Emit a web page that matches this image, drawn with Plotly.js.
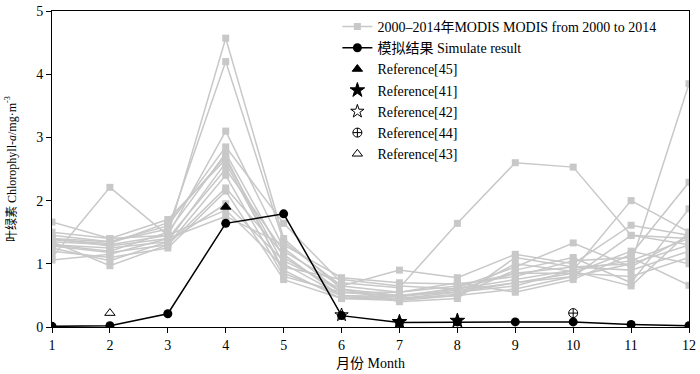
<!DOCTYPE html>
<html>
<head>
<meta charset="utf-8">
<script src="https://cdn.plot.ly/plotly-3.0.1.min.js"></script>
<style>html,body{margin:0;padding:0;background:#fff;}#chart{width:700px;height:374px;}</style>
</head>
<body>
<div id="chart"></div>
<script>
var months = [1,2,3,4,5,6,7,8,9,10,11,12];
var modisYears = ['2000','2001','2002','2003','2004','2005','2006','2007','2008','2009','2010','2011','2012','2013','2014'];
var modis2000 = [1.35,1.30,1.45,4.57,1.40,0.60,0.50,0.60,0.75,0.90,1.05,1.40];
var modis2001 = [1.40,1.35,1.55,4.20,1.35,0.65,0.55,0.65,0.85,0.95,1.00,1.30];
var modis2002 = [1.10,2.21,1.45,3.10,1.25,0.55,0.50,0.55,0.70,0.85,0.80,1.10];
var modis2003 = [1.45,1.35,1.60,2.85,1.64,0.70,0.62,1.64,2.60,2.53,1.45,1.40];
var modis2004 = [1.30,1.20,1.50,2.75,1.10,0.55,0.48,0.62,0.95,1.33,0.95,1.45];
var modis2005 = [1.66,1.40,1.70,2.65,1.00,0.50,0.45,0.55,0.65,0.90,2.00,1.50];
var modis2006 = [1.25,1.05,1.35,2.60,0.90,0.45,0.42,0.50,0.60,0.80,1.00,3.85];
var modis2007 = [1.40,1.28,1.40,2.50,1.20,0.65,0.90,0.78,1.15,1.00,1.61,1.45];
var modis2008 = [1.35,0.97,1.30,2.40,0.80,0.55,0.55,0.70,0.55,0.75,1.15,2.29];
var modis2009 = [1.20,1.10,1.25,2.15,0.75,0.45,0.45,0.50,0.90,1.10,0.70,1.87];
var modis2010 = [1.30,1.25,1.35,1.95,1.05,0.60,0.40,0.45,1.10,0.95,0.90,1.20];
var modis2011 = [1.50,1.40,1.45,1.85,0.95,0.75,0.65,0.60,0.85,0.85,1.20,1.00];
var modis2012 = [1.06,1.15,1.40,1.75,1.30,0.78,0.70,0.68,0.80,1.05,1.10,0.66];
var modis2013 = [1.38,1.32,1.65,2.70,0.85,0.50,0.48,0.58,0.70,0.80,1.45,1.30];
var modis2014 = [1.28,1.18,1.30,2.20,1.15,0.48,0.44,0.52,1.00,0.88,0.65,1.50];
var modisSeries = [modis2000,modis2001,modis2002,modis2003,modis2004,modis2005,modis2006,modis2007,modis2008,modis2009,modis2010,modis2011,modis2012,modis2013,modis2014];

var simulate = [0.01,0.02,0.21,1.64,1.79,0.18,0.07,0.08,0.08,0.08,0.04,0.02];

var ref45Month = [4];   var ref45Value = [1.90];
var ref41Month = [7,8]; var ref41Value = [0.08,0.10];
var ref42Month = [6];   var ref42Value = [0.19];
var ref44Month = [10];  var ref44Value = [0.22];
var ref43Month = [2];   var ref43Value = [0.22];

var tickLabels = ['1','2','3','4','5','6','7','8','9','10','11','12'];

var FONT = "'Liberation Serif', 'Noto Sans CJK SC', serif";
var GREY = '#c8c8c8';

var traces = [];
modisSeries.forEach(function(vals, i){
  traces.push({
    x: months, y: vals, type: 'scatter', mode: 'lines+markers',
    name: '2000–2014年MODIS MODIS from 2000 to 2014',
    legendgroup: 'modis', showlegend: i === 0,
    line: {color: GREY, width: 1.5},
    marker: {symbol: 'square', size: 7, color: GREY},
    hovertext: modisYears[i]
  });
});
traces.push({
  x: months, y: simulate, type: 'scatter', mode: 'lines+markers',
  name: '模拟结果 Simulate result',
  line: {color: '#000', width: 1.5},
  marker: {symbol: 'circle', size: 9, color: '#000'}
});
function refTrace(xs, ys, name, sym, size){
  return {x: xs, y: ys, type: 'scatter', mode: 'markers', name: name,
    marker: {symbol: sym, size: size, color: '#000', line: {color: '#000', width: 1}}};
}
traces.push(refTrace(ref45Month, ref45Value, 'Reference[45]', 'triangle-up', 9));
traces.push(refTrace(ref41Month, ref41Value, 'Reference[41]', 'star', 11));
traces.push(refTrace(ref42Month, ref42Value, 'Reference[42]', 'star-open', 10));
traces.push(refTrace(ref44Month, ref44Value, 'Reference[44]', 'circle-cross-open', 9));
traces.push(refTrace(ref43Month, ref43Value, 'Reference[43]', 'triangle-up-open', 9));

var layout = {
  width: 700, height: 374,
  margin: {l: 52, r: 11, t: 11, b: 47},
  paper_bgcolor: '#fff', plot_bgcolor: '#fff',
  font: {family: FONT, size: 14, color: '#000'},
  showlegend: true,
  legend: {x: 0.448, y: 1, xanchor: 'left', yanchor: 'top', bgcolor: 'rgba(0,0,0,0)',
    font: {family: FONT, size: 14, color: '#000'}, tracegroupgap: 0, itemwidth: 30},
  xaxis: {
    range: [1, 12], tickvals: months, ticktext: tickLabels,
    showgrid: false, zeroline: false, showline: true, linecolor: '#000', linewidth: 1,
    mirror: true, ticks: 'outside', ticklen: 5, tickcolor: '#000',
    tickfont: {family: FONT, size: 14},
    title: {text: '月份 Month', font: {family: FONT, size: 14}, standoff: 6}
  },
  yaxis: {
    range: [0, 5], dtick: 1, tick0: 0,
    showgrid: false, zeroline: false, showline: true, linecolor: '#000', linewidth: 1,
    mirror: true, ticks: 'outside', ticklen: 5, tickcolor: '#000',
    tickfont: {family: FONT, size: 14},
    title: {text: '叶绿素 Chlorophyll-<i>a</i>/mg·m<sup>-3</sup>', font: {family: FONT, size: 12}, standoff: 17}
  }
};
Plotly.newPlot('chart', traces, layout, {displayModeBar: false, staticPlot: true});
</script>
</body>
</html>
